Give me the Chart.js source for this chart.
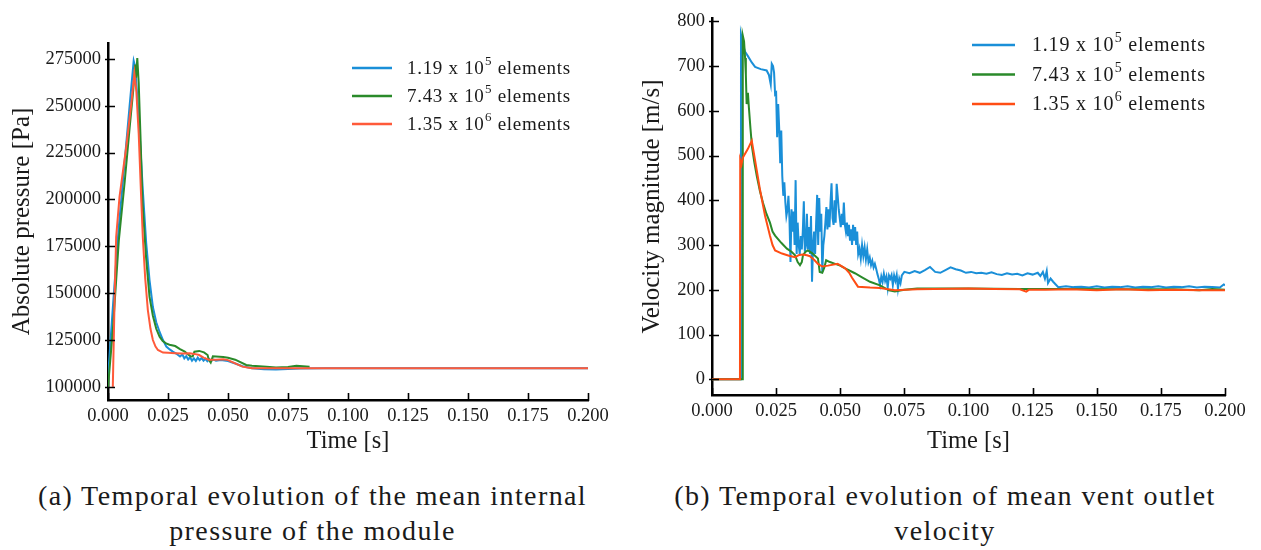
<!DOCTYPE html>
<html>
<head>
<meta charset="utf-8">
<script src="https://cdn.jsdelivr.net/npm/chart.js@4.4.0/dist/chart.umd.min.js"></script>
<style>
body { margin: 0; background: #fff; width: 1261px; height: 550px; overflow: hidden; position: relative; font-family: "Liberation Serif", serif; }
canvas { position: absolute; top: 0; }
#pressureChart { left: 0; }
#velocityChart { left: 630px; }
.cap { position: absolute; top: 478px; text-align: center; font-size: 28px; letter-spacing: 1.4px; line-height: 35px; color: #1a1a1a; }
#capA { left: 0; width: 625px; }
#capB { left: 630px; width: 630px; }
</style>
</head>
<body>
<canvas id="pressureChart" width="620" height="470"></canvas>
<canvas id="velocityChart" width="631" height="470"></canvas>
<div class="cap" id="capA">(a) Temporal evolution of the mean internal<br>pressure of the module</div>
<div class="cap" id="capB">(b) Temporal evolution of mean vent outlet<br>velocity</div>
<script>
// legend labels, ^ marks the exponent
const seriesLabels = ['1.19 x 10^5 elements', '7.43 x 10^5 elements', '1.35 x 10^6 elements'];
const timeTicks = [0, 0.025, 0.05, 0.075, 0.1, 0.125, 0.15, 0.175, 0.2];
const pressureTicks = [100000, 125000, 150000, 175000, 200000, 225000, 250000, 275000];
const velocityTicks = [0, 100, 200, 300, 400, 500, 600, 700, 800];

// (a) mean internal pressure [Pa]
const pCoarseT = [0, 0.002, 0.0044, 0.007, 0.009, 0.0107, 0.0113, 0.0122, 0.0131, 0.0145, 0.0159, 0.0173, 0.0187, 0.0201, 0.0215, 0.0229, 0.0243, 0.0257, 0.027, 0.0284, 0.030, 0.031, 0.0318, 0.0326, 0.0334, 0.0342, 0.035, 0.0358, 0.0366, 0.0374, 0.0382, 0.039, 0.0398, 0.0406, 0.0414, 0.0422, 0.043, 0.044, 0.045, 0.047, 0.050, 0.053, 0.056, 0.060, 0.065, 0.070, 0.075, 0.080, 0.090, 0.110, 0.150, 0.200];
const pCoarse = [105000, 142000, 184000, 221000, 250000, 274000, 271000, 255000, 237000, 205000, 177000, 157000, 142600, 134500, 129300, 125000, 121500, 120000, 118800, 117800, 116200, 117300, 115200, 116400, 114600, 115800, 114000, 115200, 113800, 115600, 114300, 115500, 114000, 115000, 113700, 114800, 113900, 114600, 114000, 114300, 113800, 112500, 111000, 110000, 109400, 109300, 109600, 109800, 110000, 110000, 110000, 110000];
const pMediumT = [0, 0.002, 0.0045, 0.007, 0.009, 0.0105, 0.0113, 0.0117, 0.0122, 0.0128, 0.0135, 0.0144, 0.0158, 0.0173, 0.0187, 0.0201, 0.0215, 0.0228, 0.0242, 0.0256, 0.028, 0.030, 0.032, 0.0335, 0.0345, 0.0353, 0.036, 0.038, 0.040, 0.0415, 0.042, 0.0428, 0.0437, 0.045, 0.048, 0.050, 0.053, 0.0576, 0.060, 0.066, 0.070, 0.075, 0.0785, 0.084];
const pMedium = [100000, 130000, 178000, 210000, 238000, 258000, 272000, 265000, 275500, 262000, 235000, 198000, 170000, 148000, 138000, 131000, 126800, 124500, 123200, 122500, 121800, 120200, 118800, 117200, 116200, 116300, 118800, 119200, 118400, 117000, 114500, 113000, 116300, 116200, 116000, 115500, 114500, 111700, 111300, 110800, 110300, 110600, 111300, 110800];
const pFineT = [0.002, 0.0028, 0.0034, 0.0048, 0.0076, 0.0097, 0.011, 0.0118, 0.0128, 0.0137, 0.0145, 0.0155, 0.0166, 0.0177, 0.0187, 0.0198, 0.0208, 0.0229, 0.025, 0.028, 0.031, 0.034, 0.036, 0.038, 0.040, 0.042, 0.045, 0.048, 0.050, 0.053, 0.056, 0.060, 0.080, 0.120, 0.160, 0.200];
const pFine = [100000, 150000, 180000, 201400, 228000, 251000, 267200, 258000, 235000, 205000, 180000, 158000, 141000, 131000, 125000, 121500, 119700, 118300, 118200, 118000, 117800, 118000, 117600, 117000, 115500, 114500, 114500, 114800, 114300, 112500, 110800, 110000, 110000, 110000, 110000, 110000];

// (b) mean vent outlet velocity [m/s]
const vCoarseT = [0, 0.011, 0.0113, 0.0122, 0.0129, 0.014, 0.0155, 0.0168, 0.019, 0.0213, 0.0222, 0.0229, 0.0233, 0.0238, 0.0242, 0.0246, 0.025, 0.0254, 0.0258, 0.0262, 0.0266, 0.027, 0.0274, 0.0278, 0.0282, 0.0286, 0.029, 0.0294, 0.0298, 0.0302, 0.0306, 0.031, 0.0314, 0.0318, 0.0322, 0.0326, 0.033, 0.0334, 0.0338, 0.0342, 0.0346, 0.035, 0.0354, 0.0358, 0.0362, 0.0366, 0.037, 0.0374, 0.0378, 0.0382, 0.0386, 0.039, 0.0394, 0.0398, 0.0402, 0.0406, 0.041, 0.0414, 0.0418, 0.0422, 0.0426, 0.043, 0.0434, 0.0438, 0.0442, 0.0446, 0.045, 0.0454, 0.0458, 0.0462, 0.0466, 0.047, 0.0474, 0.0478, 0.0482, 0.0486, 0.049, 0.0494, 0.0498, 0.0502, 0.0506, 0.051, 0.0514, 0.0518, 0.0522, 0.0526, 0.053, 0.0534, 0.0538, 0.0542, 0.0546, 0.055, 0.0554, 0.0558, 0.0562, 0.0566, 0.057, 0.0575, 0.058, 0.0585, 0.059, 0.0595, 0.060, 0.0605, 0.061, 0.0615, 0.062, 0.0625, 0.063, 0.0635, 0.064, 0.0645, 0.065, 0.0655, 0.066, 0.0665, 0.067, 0.0675, 0.068, 0.0685, 0.069, 0.0695, 0.070, 0.0705, 0.071, 0.0715, 0.072, 0.0725, 0.073, 0.0735, 0.074, 0.075, 0.077, 0.079, 0.081, 0.083, 0.085, 0.087, 0.089, 0.091, 0.093, 0.095, 0.097, 0.099, 0.101, 0.103, 0.105, 0.107, 0.109, 0.111, 0.113, 0.115, 0.117, 0.119, 0.121, 0.123, 0.125, 0.127, 0.128, 0.129, 0.1298, 0.1305, 0.131, 0.132, 0.133, 0.134, 0.135, 0.138, 0.141, 0.144, 0.147, 0.150, 0.153, 0.156, 0.159, 0.162, 0.165, 0.168, 0.171, 0.174, 0.177, 0.180, 0.183, 0.186, 0.189, 0.192, 0.195, 0.198, 0.1995, 0.200];
const vCoarse = [0, 0, 770, 745, 732, 722, 708, 698, 693, 690, 680, 659, 705, 700, 685, 637, 640, 541, 615, 560, 483, 556, 454, 410, 440, 395, 365, 378, 410, 358, 262, 380, 330, 375, 300, 445, 280, 350, 300, 280, 320, 290, 330, 398, 285, 300, 370, 290, 340, 280, 365, 218, 300, 330, 280, 350, 412, 300, 405, 330, 370, 240, 300, 320, 350, 385, 335, 380, 340, 395, 438, 360, 345, 400, 350, 437, 410, 380, 360, 340, 370, 345, 395, 345, 330, 350, 320, 345, 310, 335, 300, 345, 310, 340, 300, 330, 280, 292, 270, 300, 275, 295, 268, 290, 262, 272, 255, 265, 250, 258, 247, 235, 225, 211, 230, 218, 236, 220, 230, 205, 232, 225, 233, 211, 232, 220, 233, 203, 225, 215, 232, 240, 237, 242, 238, 244, 251, 240, 238, 244, 250, 246, 243, 238, 240, 237, 238, 236, 239, 235, 233, 237, 234, 236, 232, 237, 234, 238, 231, 240, 225, 242, 215, 225, 218, 212, 206, 208, 206, 207, 205, 208, 205, 207, 206, 208, 205, 207, 206, 208, 205, 207, 206, 208, 205, 207, 206, 205, 212, 210];
const vMediumT = [0, 0.0118, 0.012, 0.0125, 0.0129, 0.0132, 0.0135, 0.0138, 0.014, 0.0144, 0.015, 0.0156, 0.0165, 0.0175, 0.0187, 0.0199, 0.0212, 0.0226, 0.0236, 0.0246, 0.027, 0.0292, 0.031, 0.0324, 0.0334, 0.0343, 0.035, 0.0355, 0.0365, 0.0374, 0.039, 0.0413, 0.042, 0.043, 0.0438, 0.0445, 0.046, 0.048, 0.050, 0.0519, 0.0557, 0.0585, 0.0616, 0.0655, 0.069, 0.0713, 0.075, 0.080, 0.090, 0.100, 0.120, 0.140, 0.160, 0.180, 0.190, 0.195, 0.200];
const vMedium = [0, 0, 768, 755, 718, 680, 615, 625, 640, 606, 560, 519, 485, 453, 420, 394, 370, 350, 330, 321, 305, 292, 285, 277, 262, 255, 262, 278, 285, 288, 282, 270, 240, 238, 250, 266, 262, 258, 254, 248, 237, 228, 218, 210, 199, 196, 200, 203, 203, 203, 202, 202, 201, 201, 199, 202, 200];
const vFineT = [0, 0.0109, 0.011, 0.0115, 0.012, 0.0125, 0.014, 0.0155, 0.0168, 0.0187, 0.0207, 0.0226, 0.0236, 0.0246, 0.0273, 0.030, 0.0324, 0.034, 0.0355, 0.037, 0.0382, 0.040, 0.0413, 0.043, 0.0452, 0.049, 0.0519, 0.0535, 0.0546, 0.0569, 0.0616, 0.0655, 0.0713, 0.080, 0.100, 0.110, 0.120, 0.1225, 0.1235, 0.130, 0.140, 0.150, 0.160, 0.170, 0.180, 0.190, 0.200];
const vFine = [0, 0, 490, 480, 495, 500, 515, 533, 489, 424, 365, 321, 300, 288, 281, 276, 273, 278, 279, 277, 275, 266, 258, 252, 254, 258, 248, 238, 227, 207, 205, 204, 199, 201, 203, 202, 201, 196, 200, 200, 201, 199, 201, 199, 200, 199, 199];

const serif = '"Liberation Serif", "Times New Roman", serif';
const blue = '#1a8fd8';
const green = '#2a8a2a';

function pts(ts, vs) {
    return ts.map((t, i) => ({ x: t, y: vs[i] }));
}

function line(label, ts, vs, color, order) {
    return { label: label, data: pts(ts, vs), borderColor: color, backgroundColor: color,
        borderWidth: 2, pointRadius: 0, tension: 0, order: order };
}

// short tick marks crossing the axes, mostly pointing inside
const innerTicks = {
    id: 'innerTicks',
    afterDraw(chart) {
        const ctx = chart.ctx;
        const area = chart.chartArea;
        const xs = chart.scales.x, ys = chart.scales.y;
        ctx.save();
        ctx.strokeStyle = '#000';
        ctx.lineWidth = 1.6;
        ctx.beginPath();
        xs.ticks.forEach(t => {
            const px = Math.round(xs.getPixelForValue(t.value)) + 0.5;
            ctx.moveTo(px, area.bottom + 1);
            ctx.lineTo(px, area.bottom - 7);
        });
        ys.ticks.forEach(t => {
            const py = Math.round(ys.getPixelForValue(t.value)) + 0.5;
            ctx.moveTo(area.left - 3, py);
            ctx.lineTo(area.left + 7, py);
        });
        ctx.stroke();
        ctx.restore();
    }
};

// legend drawn inside the plot, with superscript exponents
const innerLegend = {
    id: 'innerLegend',
    afterDraw(chart, args, opts) {
        const ctx = chart.ctx;
        const area = chart.chartArea;
        const x0 = area.right - opts.fromRight;
        ctx.save();
        ctx.letterSpacing = opts.spacing;
        chart.data.datasets.forEach((ds, i) => {
            const y = area.top + opts.top + i * opts.step;
            ctx.strokeStyle = ds.borderColor;
            ctx.lineWidth = 2.5;
            ctx.beginPath();
            ctx.moveTo(x0, y);
            ctx.lineTo(x0 + opts.lineLen, y);
            ctx.stroke();
            const parts = ds.label.split('^');
            const sup = parts[1].charAt(0);
            const rest = parts[1].slice(1);
            let tx = x0 + opts.lineLen + opts.gap;
            ctx.fillStyle = '#1a1a1a';
            ctx.textBaseline = 'middle';
            ctx.font = opts.size + 'px ' + serif;
            ctx.fillText(parts[0], tx, y + 1);
            tx += ctx.measureText(parts[0]).width + 0.5;
            ctx.font = Math.round(opts.size * 0.7) + 'px ' + serif;
            ctx.fillText(sup, tx, y - opts.size * 0.32);
            tx += ctx.measureText(sup).width;
            ctx.font = opts.size + 'px ' + serif;
            ctx.fillText(rest, tx, y + 1);
        });
        ctx.restore();
    }
};

function axisFont(size) {
    return { family: serif, size: size };
}

function makeOptions(cfg) {
    return {
        responsive: false,
        animation: false,
        devicePixelRatio: 1,
        layout: { padding: { left: 0, top: cfg.padTop, right: cfg.padRight, bottom: 0 } },
        scales: {
            x: {
                type: 'linear', min: 0, max: 0.2,
                afterBuildTicks: s => { s.ticks = timeTicks.map(v => ({ value: v })); },
                afterFit: s => { s.height = cfg.xHeight; },
                grid: { display: false, drawTicks: false },
                border: { display: true, color: '#000', width: 2.5 },
                ticks: { autoSkip: false, maxRotation: 0, padding: 5, color: '#1a1a1a', font: axisFont(18.5),
                    callback: v => Number(v).toFixed(3) },
                title: { display: true, text: 'Time [s]', color: '#1a1a1a', font: axisFont(24.5), padding: { top: 0, bottom: 14 } }
            },
            y: {
                min: cfg.yMin, max: cfg.yMax,
                afterBuildTicks: s => { s.ticks = cfg.yTicks.map(v => ({ value: v })); },
                afterFit: s => { s.width = cfg.yWidth; },
                grid: { display: false, drawTicks: false },
                border: { display: true, color: '#000', width: 2.5 },
                ticks: { autoSkip: false, padding: 7, color: '#1a1a1a', font: axisFont(18.5), callback: v => String(v) },
                title: { display: true, text: cfg.yTitle, color: '#1a1a1a', font: axisFont(25), padding: { top: 7, bottom: 0 } }
            }
        },
        plugins: {
            legend: { display: false },
            tooltip: { enabled: false },
            innerLegend: cfg.legend
        }
    };
}

new Chart(document.getElementById('pressureChart').getContext('2d'), {
    type: 'line',
    data: {
        datasets: [
            line(seriesLabels[0], pCoarseT, pCoarse, blue, 2),
            line(seriesLabels[1], pMediumT, pMedium, green, 1),
            line(seriesLabels[2], pFineT, pFine, '#ff5a3a', 0)
        ]
    },
    options: makeOptions({
        padTop: 43, padRight: 32, xHeight: 70, yWidth: 108,
        yMin: 93000, yMax: 283500, yTicks: pressureTicks,
        yTitle: 'Absolute pressure [Pa]',
        legend: { fromRight: 236, top: 25, step: 28, lineLen: 40, gap: 15, size: 19, spacing: '0.7px' }
    }),
    plugins: [innerTicks, innerLegend]
});

new Chart(document.getElementById('velocityChart').getContext('2d'), {
    type: 'line',
    data: {
        datasets: [
            line(seriesLabels[0], vCoarseT, vCoarse, blue, 2),
            line(seriesLabels[1], vMediumT, vMedium, green, 1),
            line(seriesLabels[2], vFineT, vFine, '#ff4d14', 0)
        ]
    },
    options: makeOptions({
        padTop: 13, padRight: 36, xHeight: 75, yWidth: 82,
        yMin: -35, yMax: 807, yTicks: velocityTicks,
        yTitle: 'Velocity magnitude [m/s]',
        legend: { fromRight: 253, top: 27, step: 29.5, lineLen: 43, gap: 17, size: 20, spacing: '0.8px' }
    }),
    plugins: [innerTicks, innerLegend]
});
</script>
</body>
</html>
